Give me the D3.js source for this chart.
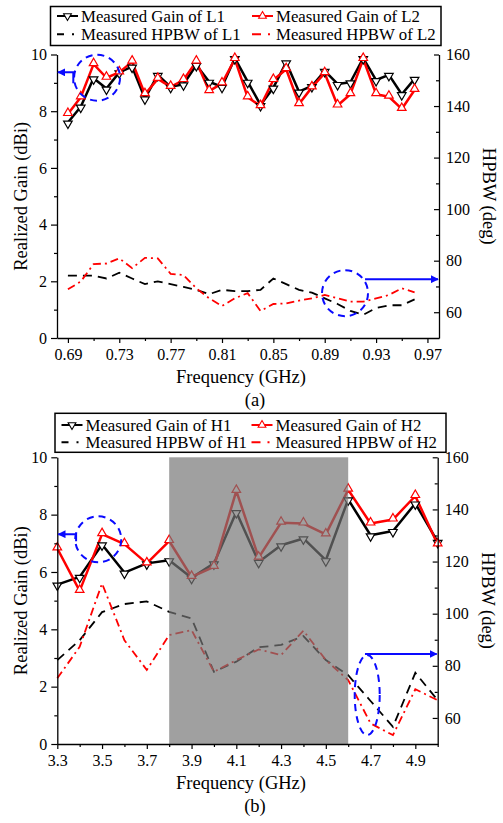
<!DOCTYPE html>
<html>
<head>
<meta charset="utf-8">
<script src="https://cdn.jsdelivr.net/npm/d3@7"></script>
<style>
  body { margin: 0; background: #fff; }
  svg text { font-family: "Liberation Serif", "DejaVu Serif", serif !important; fill: #000; }
</style>
</head>
<body>
<svg id="chart" width="503" height="823"></svg>
<script>
// ---- panel (a): L band ----
const freqL = [0.69, 0.70, 0.71, 0.72, 0.73, 0.74, 0.75, 0.76, 0.77, 0.78, 0.79, 0.80, 0.81, 0.82,
               0.83, 0.84, 0.85, 0.86, 0.87, 0.88, 0.89, 0.90, 0.91, 0.92, 0.93, 0.94, 0.95, 0.96];
const gainL1 = [7.6, 8.16, 9.16, 8.8, 9.37, 9.57, 8.45, 9.28, 8.86, 8.95, 9.63, 9.04, 8.86, 9.87,
                9.04, 8.22, 8.83, 9.72, 8.69, 8.89, 9.42, 8.96, 9.02, 9.87, 9.1, 9.28, 8.6, 9.14];
const gainL2 = [7.9, 8.49, 9.66, 9.18, 9.37, 9.75, 8.6, 9.14, 8.86, 9.1, 9.75, 8.71, 8.98, 9.84,
                8.49, 8.18, 9.1, 9.48, 8.25, 8.84, 9.34, 8.2, 8.6, 9.84, 8.6, 8.51, 8.08, 8.75];
const hpbwL1 = [74.2, 74.2, 74.2, 73.1, 75.3, 73.1, 70.9, 72, 70.9, 69.8, 68.7, 67, 68.7, 68.2,
                68.2, 68.7, 73.1, 70.9, 68.7, 67.6, 65.4, 63.2, 60.5, 59, 61.6, 62.7, 62.7, 65];
const hpbwL2 = [68.9, 71.9, 78.7, 78.9, 80.9, 77.1, 81.1, 80.9, 74.9, 74.4, 69.3, 65.4, 62.4, 65.4,
                67.4, 60.5, 63.2, 63.4, 64.5, 65.4, 66.7, 65.4, 64.1, 64.1, 65.4, 66.7, 69.3, 67.7];
const ticksXL = [0.69, 0.71, 0.73, 0.75, 0.77, 0.79, 0.81, 0.83, 0.85, 0.87, 0.89, 0.91, 0.93, 0.95, 0.97];

// ---- panel (b): H band ----
const freqH = [3.3, 3.4, 3.5, 3.6, 3.7, 3.8, 3.9, 4.0, 4.1, 4.2, 4.3, 4.4, 4.5, 4.6, 4.7, 4.8, 4.9, 5.0];
const gainH1 = [5.56, 5.83, 6.96, 5.98, 6.3, 6.41, 5.8, 6.3, 8.09, 6.35, 6.93, 7.17, 6.41, 8.53, 7.28, 7.43, 8.39, 7.05];
const gainH2 = [6.82, 5.34, 7.32, 6.97, 6.3, 7.08, 5.83, 6.18, 8.83, 6.5, 7.72, 7.69, 7.31, 8.87, 7.69, 7.83, 8.65, 6.96];
const hpbwH1 = [82.2, 89.8, 100.6, 103.7, 104.7, 100.7, 98.2, 77.7, 81.6, 87.1, 88, 91.4, 82.2, 76.4, 66.5, 56.6, 77.3, 66.8];
const hpbwH2 = [75.2, 87.3, 111.6, 89.8, 78.4, 91.8, 93.7, 77.7, 82.2, 86.3, 84.1, 93.5, 82.2, 74.5, 57.9, 53.4, 71, 66.8];
const ticksXH = [3.3, 3.4, 3.5, 3.6, 3.7, 3.8, 3.9, 4.0, 4.1, 4.2, 4.3, 4.4, 4.5, 4.6, 4.7, 4.8, 4.9, 5.0];
const shadedH = [3.8, 4.6];

const ticksGain = [0, 1, 2, 3, 4, 5, 6, 7, 8, 9, 10];
const ticksHpbw = [60, 70, 80, 90, 100, 110, 120, 130, 140, 150, 160];

const SERIF = '"Liberation Serif", "DejaVu Serif", serif';
const svg = d3.select('#chart').attr('font-family', SERIF);
const BLUE = '#0a0aff';

svg.append('defs').append('marker')
    .attr('id', 'arrow')
    .attr('viewBox', '0 0 10 10')
    .attr('refX', 9).attr('refY', 5)
    .attr('markerWidth', 4).attr('markerHeight', 4)
    .attr('markerUnits', 'strokeWidth')
    .attr('orient', 'auto')
  .append('path')
    .attr('d', 'M0,0 L10,5 L0,10 z')
    .attr('fill', BLUE);

function label (sel) {
  return sel.style('font-family', SERIF);
}

function panel (cfg) {
  const g = svg.append('g');
  const x = d3.scaleLinear().domain(cfg.xDomain).range([cfg.left, cfg.right]);
  const yL = d3.scaleLinear().domain([0, 10]).range([cfg.bottom, cfg.top]);
  const yR = d3.scaleLinear().domain([50, 160]).range([cfg.bottom, cfg.top]);

  const plot = g.append('g');

  const lineGain = d3.line().x((d, i) => x(cfg.freq[i])).y(d => yL(d));
  const lineHpbw = d3.line().x((d, i) => x(cfg.freq[i])).y(d => yR(d));

  plot.append('path').datum(cfg.hpbw1)
      .attr('d', lineHpbw).attr('fill', 'none')
      .attr('stroke', '#000').attr('stroke-width', 1.8).attr('stroke-dasharray', '9,6');
  plot.append('path').datum(cfg.hpbw2)
      .attr('d', lineHpbw).attr('fill', 'none')
      .attr('stroke', '#ff0000').attr('stroke-width', 1.8).attr('stroke-dasharray', '8,4,2,4');

  plot.append('path').datum(cfg.gain1)
      .attr('d', lineGain).attr('fill', 'none')
      .attr('stroke', '#000').attr('stroke-width', 2.5).attr('stroke-linejoin', 'round');
  plot.append('path').datum(cfg.gain2)
      .attr('d', lineGain).attr('fill', 'none')
      .attr('stroke', '#ff0000').attr('stroke-width', 2.5).attr('stroke-linejoin', 'round');

  const tri = d3.symbol().type(d3.symbolTriangle).size(32);
  plot.selectAll('.m1').data(cfg.gain1).enter().append('path')
      .attr('d', tri)
      .attr('transform', (d, i) => `translate(${x(cfg.freq[i])},${yL(d) + 1}) rotate(180)`)
      .attr('fill', '#fff').attr('stroke', '#000').attr('stroke-width', 1.2);
  plot.selectAll('.m2').data(cfg.gain2).enter().append('path')
      .attr('d', tri)
      .attr('transform', (d, i) => `translate(${x(cfg.freq[i])},${yL(d) - 1})`)
      .attr('fill', '#fff').attr('stroke', '#ff0000').attr('stroke-width', 1.2);

  // shaded band sits on top of the curves, like the original
  if (cfg.shade) {
    g.append('rect')
        .attr('x', x(cfg.shade[0])).attr('y', cfg.top)
        .attr('width', x(cfg.shade[1]) - x(cfg.shade[0]))
        .attr('height', cfg.bottom - cfg.top)
        .attr('fill', 'rgb(118,118,118)').attr('opacity', 0.69);
  }

  // axes
  const axisStyle = sel => {
    sel.attr('font-family', SERIF);
    sel.selectAll('.domain').attr('stroke-width', 1.3);
    sel.selectAll('.tick line').attr('stroke-width', 1.2);
    sel.selectAll('text').attr('font-size', 16).call(label);
  };
  const isMajor = (list, v) => list.indexOf(v) % 2 === 0;

  const xAxis = d3.axisBottom(x).tickValues(cfg.xTicks).tickSizeOuter(0)
      .tickPadding(5)
      .tickFormat(d => isMajor(cfg.xTicks, d) ? cfg.xFmt(d) : '');
  g.append('g').attr('transform', `translate(0,${cfg.bottom})`).call(xAxis).call(axisStyle)
      .selectAll('.tick line').attr('y2', d => isMajor(cfg.xTicks, d) ? 5 : 3);

  const yAxisL = d3.axisLeft(yL).tickValues(ticksGain).tickSizeOuter(0).tickPadding(4)
      .tickFormat(d => d % 2 === 0 ? d : '');
  g.append('g').attr('transform', `translate(${cfg.left},0)`).call(yAxisL).call(axisStyle)
      .selectAll('.tick line').attr('x2', d => d % 2 === 0 ? -6 : -3);

  const yAxisR = d3.axisRight(yR).tickValues(ticksHpbw).tickSizeOuter(0).tickPadding(8)
      .tickFormat(d => d % 20 === 0 ? d : '');
  const gr = g.append('g').attr('transform', `translate(${cfg.right},0)`).call(yAxisR).call(axisStyle);
  gr.selectAll('.tick line').attr('x2', d => d % 20 === 0 ? -5 : -3);
  gr.selectAll('.tick text').attr('x', 7);

  // axis titles
  g.append('text')
      .attr('transform', `translate(${cfg.left - 30},${(cfg.top + cfg.bottom) / 2}) rotate(-90)`)
      .attr('text-anchor', 'middle').attr('font-size', 18.5).call(label)
      .text('Realized Gain (dBi)');
  g.append('text')
      .attr('transform', `translate(${cfg.right + 44},${(cfg.top + cfg.bottom) / 2}) rotate(90)`)
      .attr('text-anchor', 'middle').attr('font-size', 18.5).call(label)
      .text('HPBW (deg)');
  g.append('text')
      .attr('x', 241).attr('y', cfg.bottom + 45)
      .attr('text-anchor', 'middle').attr('font-size', 18.5).call(label)
      .text('Frequency (GHz)');
  g.append('text')
      .attr('x', 255).attr('y', cfg.bottom + 68)
      .attr('text-anchor', 'middle').attr('font-size', 18.5).call(label)
      .text(cfg.caption);

  // legend
  const lg = g.append('g');
  lg.append('rect')
      .attr('x', cfg.legend.x0).attr('y', cfg.legend.y0)
      .attr('width', cfg.legend.x1 - cfg.legend.x0).attr('height', cfg.legend.y1 - cfg.legend.y0)
      .attr('fill', '#fff').attr('stroke', '#000').attr('stroke-width', 1.5);
  const items = [
    {col: 0, row: 0, color: '#000', dash: null, mark: 'down', label: cfg.names[0]},
    {col: 1, row: 0, color: '#ff0000', dash: null, mark: 'up', label: cfg.names[1]},
    {col: 0, row: 1, color: '#000', dash: '7,8,2,20', mark: null, label: cfg.names[2]},
    {col: 1, row: 1, color: '#ff0000', dash: '9,7,2,20', mark: null, label: cfg.names[3]}
  ];
  const tri2 = d3.symbol().type(d3.symbolTriangle).size(26);
  items.forEach(it => {
    const sx = cfg.legend.cols[it.col];
    const sy = cfg.legend.rows[it.row];
    lg.append('line')
        .attr('x1', sx).attr('x2', sx + 21).attr('y1', sy).attr('y2', sy)
        .attr('stroke', it.color).attr('stroke-width', 2)
        .attr('stroke-dasharray', it.dash);
    if (it.mark) {
      lg.append('path').attr('d', tri2)
          .attr('transform', `translate(${sx + 10.5},${sy}) rotate(${it.mark === 'down' ? 180 : 0})`)
          .attr('fill', '#fff').attr('stroke', it.color).attr('stroke-width', 1.1);
    }
    lg.append('text')
        .attr('x', sx + 24).attr('y', sy + 6)
        .attr('font-size', 16.8).call(label)
        .text(it.label);
  });

  // blue annotations
  const an = g.append('g').attr('fill', 'none').attr('stroke', BLUE).attr('stroke-width', 2);
  cfg.notes.forEach(n => {
    const cx = x(n.f);
    const cy = n.axis === 'L' ? yL(n.v) : yR(n.v);
    an.append('ellipse')
        .attr('cx', cx).attr('cy', cy).attr('rx', n.rx).attr('ry', n.ry)
        .attr('stroke-dasharray', '7,5');
    const ay = n.axis === 'L' ? yL(n.av) : yR(n.av);
    const ax = x(n.af);
    const pts = n.axis === 'L'
      ? [[ax, ay + n.drop], [ax, ay], [cfg.left + 1, ay]]
      : [[ax, ay], [cfg.right - 1, ay]];
    an.append('path')
        .attr('d', d3.line()(pts))
        .attr('marker-end', 'url(#arrow)');
  });
}

panel({
  xDomain: [0.6815, 0.979], left: 57, right: 439, top: 54.5, bottom: 338,
  freq: freqL, gain1: gainL1, gain2: gainL2, hpbw1: hpbwL1, hpbw2: hpbwL2,
  xTicks: ticksXL, xFmt: d3.format('.2f'), caption: '(a)',
  names: ['Measured Gain of L1', 'Measured Gain of L2', 'Measured HPBW of L1', 'Measured HPBW of L2'],
  legend: {x0: 50.5, x1: 441, y0: 6.5, y1: 45.5, cols: [57, 252], rows: [16, 34.3]},
  notes: [
    {axis: 'L', f: 0.7127, v: 9.18, rx: 23, ry: 23, af: 0.6942, av: 9.37, drop: 11},
    {axis: 'R', f: 0.9058, v: 67.4, rx: 23, ry: 23, af: 0.9214, av: 72.8}
  ]
});

panel({
  xDomain: [3.3, 5.0], left: 57.3, right: 437.7, top: 457.3, bottom: 744,
  freq: freqH, gain1: gainH1, gain2: gainH2, hpbw1: hpbwH1, hpbw2: hpbwH2,
  xTicks: ticksXH, xFmt: d3.format('.1f'), caption: '(b)', shade: shadedH,
  names: ['Measured Gain of H1', 'Measured Gain of H2', 'Measured HPBW of H1', 'Measured HPBW of H2'],
  legend: {x0: 55, x1: 446, y0: 413.3, y1: 452.3, cols: [61.5, 251.5], rows: [425, 442.3]},
  notes: [
    {axis: 'L', f: 3.483, v: 7.14, rx: 23, ry: 23, af: 3.384, av: 7.32, drop: 7},
    {axis: 'R', f: 4.685, v: 68.8, rx: 12.5, ry: 40, af: 4.675, av: 84.5}
  ]
});
</script>
</body>
</html>
